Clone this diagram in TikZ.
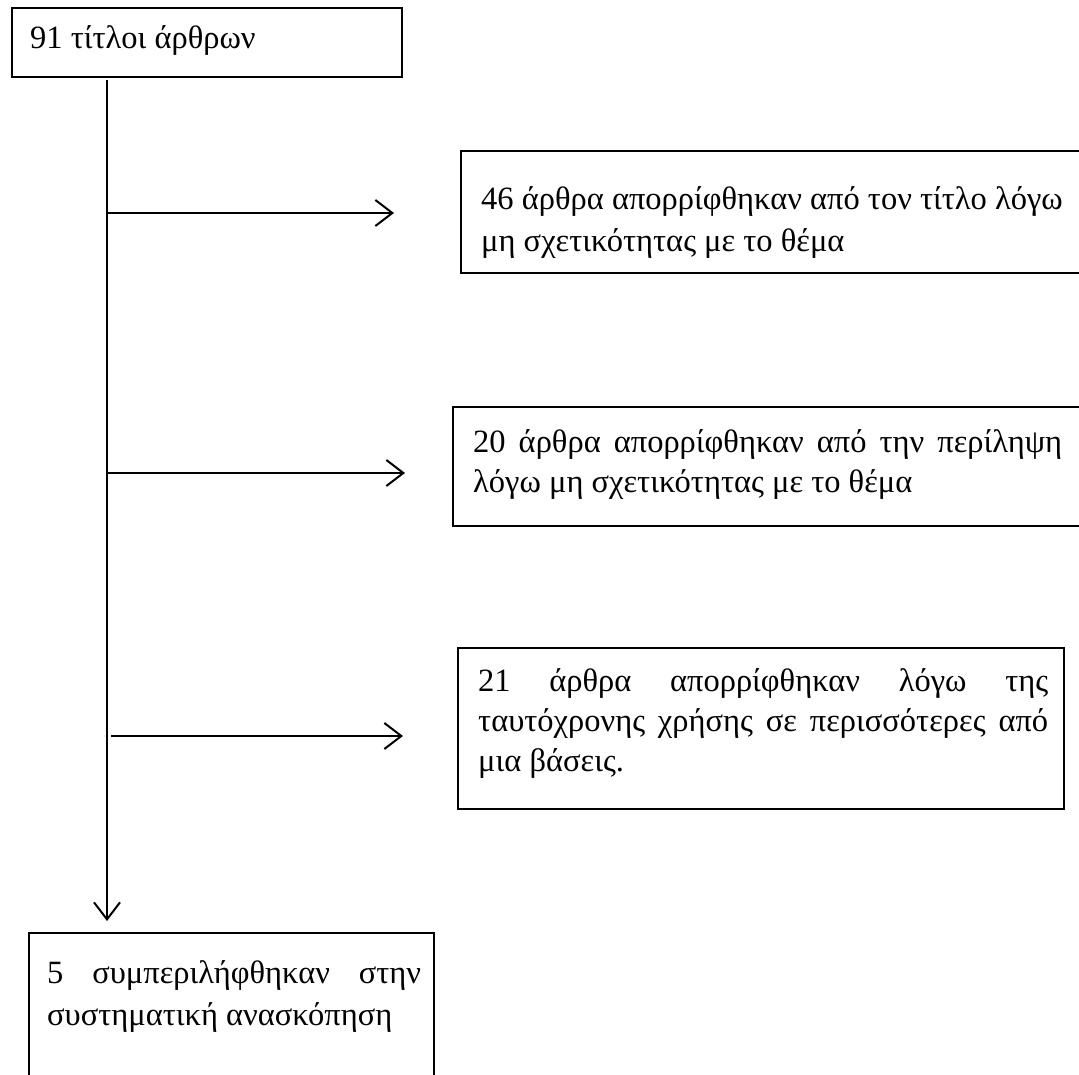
\documentclass[tikz,border=0pt]{standalone}
\usepackage{fontspec}
\setmainfont{Liberation Serif}
\usetikzlibrary{arrows.meta}
\tikzset{
  box/.style={draw=black, line width=2pt, fill=none},
  txt/.style={anchor=base west, inner sep=0pt, font=\fontsize{32.5}{40}\selectfont},
  conn/.style={line width=2.2pt, -{Straight Barb[length=17pt,width=26pt,line width=2pt]}},
}
\begin{document}
\begin{tikzpicture}[x=1pt,y=-1pt]
\useasboundingbox (0,0) rectangle (1079,1075);
% boxes
\draw[box] (12,8) rectangle (402,77);
\coordinate (topbox-s) at (107,80);
\draw[box] (461,151) rectangle (1100,273);
\draw[box] (453,407) rectangle (1100,526);
\draw[box] (458,648) rectangle (1064,809);
\draw[box] (29,933) rectangle (434,1100);
% texts
\node[txt] (t0) at (30,49) {91 τίτλοι άρθρων};
\node[txt] (t1a) at (481,210) {46 άρθρα απορρίφθηκαν από τον τίτλο λόγω};
\node[txt] (t1b) at (481,252) {μη σχετικότητας με το θέμα};
\node[txt] (t2a) at (473,452) {\makebox[589pt][s]{20 άρθρα απορρίφθηκαν από την περίληψη}};
\node[txt] (t2b) at (473,492) {λόγω μη σχετικότητας με το θέμα};
\node[txt] (t3a) at (478,691) {\makebox[570pt][s]{21 άρθρα απορρίφθηκαν λόγω της}};
\node[txt] (t3b) at (478,731) {\makebox[570pt][s]{ταυτόχρονης χρήσης σε περισσότερες από}};
\node[txt] (t3c) at (478,771) {μια βάσεις.};
\node[txt] (t4a) at (47,983) {\makebox[374pt][s]{5 συμπεριλήφθηκαν στην}};
\node[txt] (t4b) at (47,1025) {συστηματική ανασκόπηση};
% connectors
\coordinate (main-end) at (107,921);
\coordinate (a1s) at (107,213);
\coordinate (a1e) at (394,213);
\coordinate (a2s) at (107,473);
\coordinate (a2e) at (405,473);
\coordinate (a3s) at (111,736);
\coordinate (a3e) at (403,736);
\draw[conn] (topbox-s) -- (main-end);
\draw[conn] (a1s) -- (a1e);
\draw[conn] (a2s) -- (a2e);
\draw[conn] (a3s) -- (a3e);
\end{tikzpicture}
\end{document}
